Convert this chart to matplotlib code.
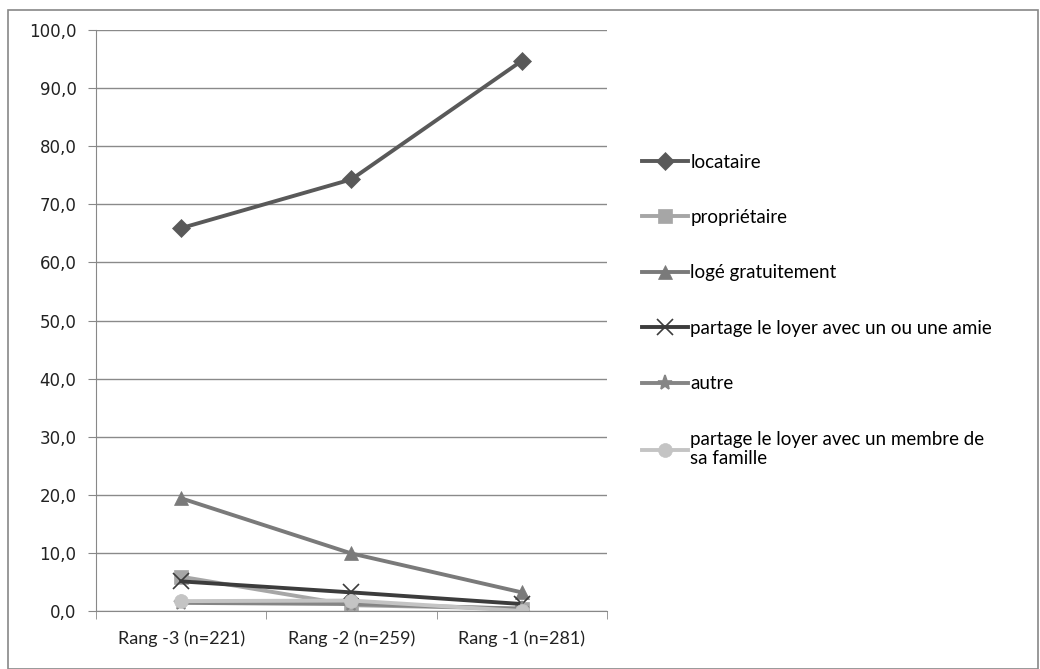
import matplotlib.pyplot as plt
from matplotlib.patches import Rectangle
from matplotlib.ticker import FuncFormatter

categories = ["Rang -3 (n=221)", "Rang -2 (n=259)", "Rang -1 (n=281)"]
locataire = [65.9, 74.3, 94.7]
proprietaire = [5.9, 1.0, 0.4]
loge_gratuit = [19.4, 9.9, 3.2]
partage_amie = [5.1, 3.2, 1.2]
autre = [1.4, 1.2, 0.4]
partage_famille = [1.7, 1.8, 0.0]

series = [
    ("locataire", locataire, "#595959", "D", 9),
    ("propriétaire", proprietaire, "#a6a6a6", "s", 10),
    ("logé gratuitement", loge_gratuit, "#7a7a7a", "^", 10),
    ("partage le loyer avec un ou une amie", partage_amie, "#3c3c3c", "x", 11),
    ("autre", autre, "#858585", "*", 11),
    ("partage le loyer avec un membre de\nsa famille", partage_famille, "#c4c4c4", "o", 10),
]

plt.rcParams['font.family'] = ['Lato', 'DejaVu Sans']

fig = plt.figure(figsize=(10.4, 6.69), dpi=100)
ax = fig.add_axes([96 / 1040, 58 / 669, 511 / 1040, 581 / 669])

x = list(range(len(categories)))
handles = []
for label, vals, color, marker, ms in series:
    h, = ax.plot(x, vals, color=color, lw=2.8, marker=marker, markersize=ms,
                 markeredgecolor=color, markeredgewidth=1.2 if marker in "x*" else 0.5,
                 label=label)
    handles.append(h)

ax.set_xlim(-0.5, 2.5)
ax.set_ylim(0, 100)
ax.set_yticks(range(0, 101, 10))
ax.yaxis.set_major_formatter(FuncFormatter(lambda v, p: f"{v:.1f}".replace(".", ",")))
ax.set_xticks(x)
ax.set_xticklabels(categories, fontsize=13, color="#222222")
ax.set_xticks([-0.5, 0.5, 1.5, 2.5], minor=True)
ax.tick_params(axis="x", which="major", length=0, pad=14)
ax.tick_params(axis="x", which="minor", length=6, color="#888888")
ax.tick_params(axis="y", length=6, color="#888888", labelsize=12, labelcolor="#222222", pad=8)
for lbl in ax.get_yticklabels():
    lbl.set_family("DejaVu Sans")
ax.grid(axis="y", color="#8a8a8a", lw=1)
ax.set_axisbelow(True)
for s in ["top", "right"]:
    ax.spines[s].set_visible(False)
ax.spines["left"].set_color("#888888")
ax.spines["bottom"].set_color("#888888")

fig.legend(handles=handles, loc="upper left", bbox_to_anchor=(634 / 1040, 1 - 146 / 669),
           frameon=False, fontsize=13.5, handlelength=2.5, handletextpad=0.1,
           labelspacing=2.05, borderaxespad=0)

fig.patches.append(Rectangle((8 / 1040, 0), 1030 / 1040, 1 - 10 / 669, transform=fig.transFigure,
                             fill=False, edgecolor="#888888", lw=1.2))

fig.savefig("out.png", dpi=100)
